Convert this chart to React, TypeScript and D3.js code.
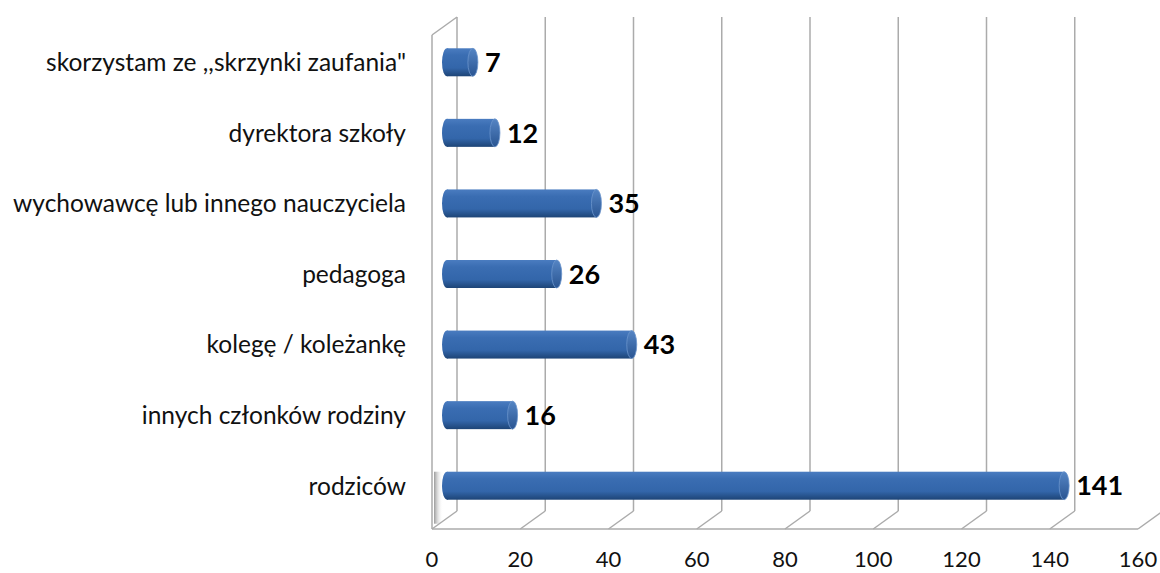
import React from 'react';
import * as d3 from 'd3';

const categories = [
  'skorzystam ze ,,skrzynki zaufania"',
  'dyrektora szkoły',
  'wychowawcę lub innego nauczyciela',
  'pedagoga',
  'kolegę / koleżankę',
  'innych członków rodziny',
  'rodziców',
];
const values = [7, 12, 35, 26, 43, 16, 141];
const ticks = [0, 20, 40, 60, 80, 100, 120, 140, 160];

const W = 1160;
const H = 573;
// front plane and depth offset of the pseudo-3D box
const front = { left: 432, right: 1138, top: 35, bottom: 529 };
const depth = { dx: 25, dy: -18 };
const grid = '#ababab';
const font = 'Lato, "Open Sans", sans-serif';

const App = () => {
  const x = d3.scaleLinear().domain([0, 160]).range([front.left, front.right]);
  const y = d3.scaleBand<string>().domain(categories).range([front.top, front.bottom]);
  const barH = 28;
  const rx = 5;

  const half = { dx: 10, dy: depth.dy / 2 + 1 };

  return (
    <svg width={W} height={H} style={{ position: 'absolute', left: 0, top: 0 }}>
      <defs>
        <linearGradient id="cyl" x1="0" y1="0" x2="0" y2="1">
          <stop offset="0" stopColor="#4a7cc0" />
          <stop offset="0.25" stopColor="#3a6db2" />
          <stop offset="0.7" stopColor="#3366aa" />
          <stop offset="1" stopColor="#1d4476" />
        </linearGradient>
        <linearGradient id="cap" x1="0" y1="0" x2="0" y2="1">
          <stop offset="0" stopColor="#5585c4" />
          <stop offset="1" stopColor="#2a5592" />
        </linearGradient>
        <linearGradient id="shadow" x1="0" y1="0" x2="1" y2="0">
          <stop offset="0" stopColor="#909090" stopOpacity="0.9" />
          <stop offset="1" stopColor="#ffffff" stopOpacity="0" />
        </linearGradient>
      </defs>

      {/* left wall */}
      <g stroke={grid} strokeWidth={1.5} fill="none">
        <line x1={front.left} y1={front.top} x2={front.left} y2={front.bottom} />
        <line x1={front.left} y1={front.top} x2={front.left + depth.dx} y2={front.top + depth.dy} />
      </g>
      {/* shadow of the long bar on the wall */}
      <rect
        x={front.left + 2}
        y={(y('rodziców') ?? 0) + y.bandwidth() / 2 - 22}
        width={9}
        height={52}
        fill="url(#shadow)"
      />

      {/* back gridlines + floor diagonals */}
      <g stroke={grid} strokeWidth={1.5} fill="none">
        {ticks.map(t => (
          <g key={t}>
            <line x1={x(t) + depth.dx} y1={front.top + depth.dy} x2={x(t) + depth.dx} y2={front.bottom + depth.dy} />
            <line x1={x(t) + depth.dx} y1={front.bottom + depth.dy} x2={x(t)} y2={front.bottom} />
          </g>
        ))}
        <line x1={front.left} y1={front.bottom} x2={front.right} y2={front.bottom} />
      </g>

      {/* bars */}
      {categories.map((c, i) => {
        const cy = (y(c) ?? 0) + y.bandwidth() / 2 + half.dy;
        const x0 = x(0) + half.dx + rx;
        const x1 = x(values[i]) + half.dx;
        return (
          <g key={c}>
            <ellipse cx={x0} cy={cy} rx={rx} ry={barH / 2} fill="url(#cyl)" />
            <rect x={x0} y={cy - barH / 2} width={Math.max(0, x1 - x0)} height={barH} fill="url(#cyl)" />
            <ellipse cx={x1} cy={cy} rx={rx} ry={barH / 2} fill="url(#cap)" stroke="#6b94cc" strokeWidth={0.8} />
            <text
              x={x1 + rx + 7}
              y={cy}
              dy="0.36em"
              fontFamily={font}
              fontWeight="bold"
              fontSize={27}
              fill="#000"
            >
              {values[i]}
            </text>
            <text
              x={406}
              y={cy}
              dy="0.36em"
              textAnchor="end"
              fontFamily={font}
              fontSize={24.5}
              fill="#111"
            >
              {c}
            </text>
          </g>
        );
      })}

      {/* x tick labels */}
      {ticks.map(t => (
        <text
          key={t}
          x={x(t)}
          y={559}
          dy="0.36em"
          textAnchor="middle"
          fontFamily={font}
          fontSize={22}
          fill="#111"
        >
          {t}
        </text>
      ))}
    </svg>
  );
};

export default App;
